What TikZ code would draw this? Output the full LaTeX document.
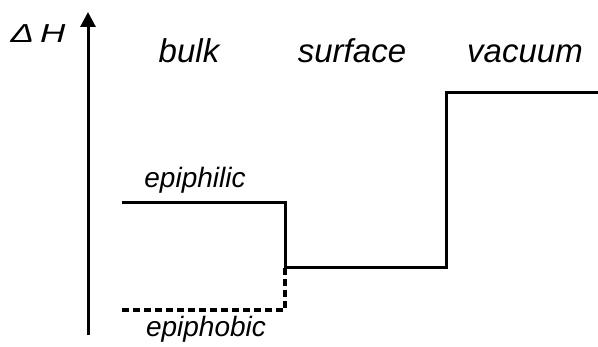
\documentclass[tikz,border=0pt]{standalone}
\usepackage{fontspec}
\setmainfont{Liberation Sans}
\usetikzlibrary{arrows.meta}
\begin{document}
\begin{tikzpicture}[x=1pt,y=1pt,
  level/.style={line width=3pt, line join=miter},
  phobic/.style={line width=3.2pt, dash pattern=on 6.5pt off 4.5pt},
  axisline/.style={line width=3pt, -{Triangle[width=15pt,length=15pt]}},
  region/.style={font=\fontsize{33}{40}\selectfont\itshape, anchor=base, inner sep=0pt},
  state/.style={font=\fontsize{28}{34}\selectfont\itshape, anchor=base, inner sep=0pt},
  axislabel/.style={font=\fontsize{26}{31}\selectfont\itshape, anchor=base, inner sep=0pt}]
\useasboundingbox (0,0) rectangle (598,347);

% energy axis
\coordinate (axbot) at (88,12);
\coordinate (axtop) at (88,335);
\draw[axisline] (axbot) -- (axtop);
\node[axislabel] (dh) at (38,304) {\scalebox{1.35}[1]{Δ\,H}};

% region headings
\node[region] (bulk) at (189,284) {bulk};
\node[region] (surf) at (352,284) {surface};
\node[region] (vac) at (525,284) {vacuum};

% enthalpy levels
\coordinate (philA) at (122,144);
\coordinate (philB) at (285,144);
\coordinate (surfA) at (285,79);
\coordinate (surfB) at (446,79);
\coordinate (vacA) at (446,254);
\coordinate (vacB) at (598,254);
\coordinate (phobA) at (122,37);
\coordinate (phobB) at (285,37);

\draw[level] (philA) -- (philB) -- (surfA) -- (surfB) -- (vacA) -- (vacB);
\draw[phobic] (phobA) -- (phobB) -- (surfA);

% level labels
\node[state] (phil) at (195,159) {epiphilic};
\node[state] (phob) at (206,10) {epiphobic};
\end{tikzpicture}
\end{document}
